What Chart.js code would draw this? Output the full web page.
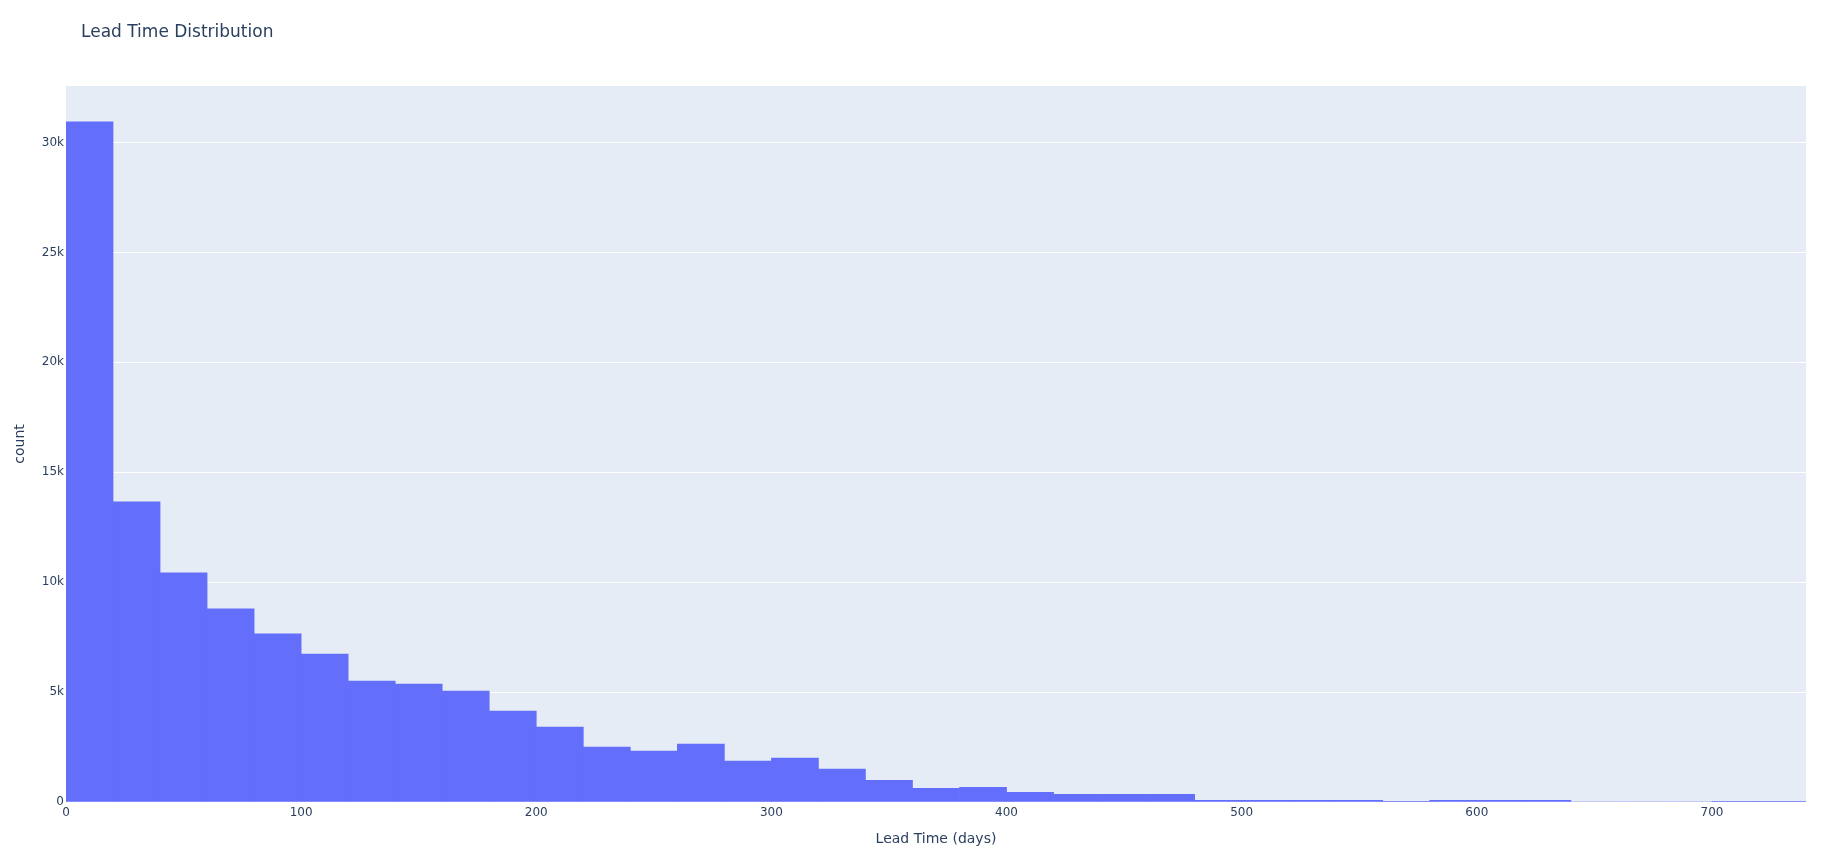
<!DOCTYPE html>
<html>
<head>
<meta charset="utf-8">
<title>Lead Time Distribution</title>
<script src="https://cdn.jsdelivr.net/npm/chart.js@4/dist/chart.umd.min.js"></script>
<style>
  html, body { margin: 0; padding: 0; background: #fff; }
  canvas { display: block; }
</style>
</head>
<body>
<canvas id="chart" width="1842" height="850"></canvas>
<script>
'use strict';

// Histogram bins: 20 days wide, starting at 0
const binStarts = [
  0, 20, 40, 60, 80, 100, 120, 140, 160, 180,
  200, 220, 240, 260, 280, 300, 320, 340, 360, 380,
  400, 420, 440, 460, 480, 500, 520, 540, 560, 580,
  600, 620, 640, 660, 680, 700, 720
];
const binWidth = 20;

// Counts per bin
const counts = [
  30940, 13660, 10430, 8785, 7645, 6733, 5502, 5365, 5046, 4134,
  3404, 2496, 2314, 2633, 1857, 1994, 1492, 989, 624, 670,
  441, 350, 350, 350, 76, 76, 76, 76, 30, 76,
  76, 76, 0, 0, 0, 30, 30
];

const xTicks = [0, 100, 200, 300, 400, 500, 600, 700];
const yTicks = [0, 5000, 10000, 15000, 20000, 25000, 30000];

// Verdana-like face (the reference was drawn with Verdana)
const fontFamily = 'Verdana, "DejaVu Sans", sans-serif';
const textColor = '#2a3f5f';

// Plot background, like plotly's default template
const plotBackground = {
  id: 'plotBackground',
  beforeDraw(chart) {
    const { ctx, chartArea } = chart;
    ctx.save();
    ctx.fillStyle = '#E5ECF6';
    ctx.fillRect(chartArea.left, chartArea.top, chartArea.right - chartArea.left, chartArea.bottom - chartArea.top);
    ctx.restore();
  },
};

// Chart title, drawn at the top left
const chartTitle = {
  id: 'chartTitle',
  afterDraw(chart) {
    const ctx = chart.ctx;
    ctx.save();
    ctx.font = '17px ' + fontFamily;
    ctx.fillStyle = textColor;
    ctx.textBaseline = 'middle';
    ctx.textAlign = 'left';
    ctx.fillText('Lead Time Distribution', 81, 33);
    ctx.restore();
  },
};

function renderChart() {
  const canvasElem = document.getElementById('chart');

  const data = {
    datasets: [
      {
        label: 'count',
        data: binStarts.map((start, i) => ({ x: start + binWidth / 2, y: counts[i] })),
        backgroundColor: '#636EFA',
        borderWidth: 0,
        barPercentage: 1,
        categoryPercentage: 1,
      },
    ],
  };

  const options = {
    responsive: false,
    animation: false,
    layout: {
      padding: { top: 86, right: 36, left: 0, bottom: 0 },
    },
    plugins: {
      legend: { display: false },
      tooltip: { enabled: false },
    },
    scales: {
      x: {
        type: 'linear',
        min: 0,
        max: 740,
        offset: false,
        afterFit: (scale) => { scale.height = 48; },
        afterBuildTicks: (scale) => { scale.ticks = xTicks.map(v => ({ value: v })); },
        grid: { display: false, drawTicks: false },
        border: { display: false },
        ticks: {
          padding: 4,
          maxRotation: 0,
          color: textColor,
          font: { family: fontFamily, size: 12 },
        },
        title: {
          display: true,
          text: 'Lead Time (days)',
          color: textColor,
          font: { family: fontFamily, size: 14 },
          padding: { top: 0, bottom: 2 },
        },
      },
      y: {
        min: 0,
        max: 32570,
        afterFit: (scale) => { scale.width = 66; },
        afterBuildTicks: (scale) => { scale.ticks = yTicks.map(v => ({ value: v })); },
        grid: { color: '#ffffff', lineWidth: 1, drawTicks: false },
        border: { display: false },
        ticks: {
          padding: 2,
          color: textColor,
          font: { family: fontFamily, size: 12 },
          callback: (v) => (v === 0 ? '0' : v / 1000 + 'k'),
        },
        title: {
          display: true,
          text: 'count',
          color: textColor,
          font: { family: fontFamily, size: 14 },
          padding: { top: 12, bottom: 0 },
        },
      },
    },
  };

  new Chart(canvasElem, {
    type: 'bar',
    data: data,
    options: options,
    plugins: [plotBackground, chartTitle],
  });
}

renderChart();
</script>
</body>
</html>
